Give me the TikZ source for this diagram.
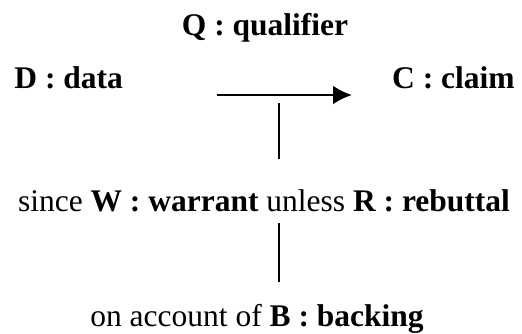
\documentclass[tikz,border=0pt]{standalone}
\usepackage{fontspec}
\setmainfont{Liberation Serif}
\usetikzlibrary{arrows.meta}
\begin{document}
\begin{tikzpicture}[x=1pt, y=-1pt, >={Latex[length=19pt,width=19pt]}, line width=2.8pt,
    lbl/.style={anchor=base, inner sep=0pt, font=\fontsize{31.5}{36}\selectfont}]
    \useasboundingbox (0,0) rectangle (522,334);
    \node[lbl] (Q) at (265,36) {\textbf{Q : qualifier}};
    \node[lbl, anchor=base west] (D) at (13,89) {\textbf{D : data}};
    \node[lbl, anchor=base east] (C) at (516,89) {\textbf{C : claim}};
    \node[lbl] (W) at (264,211) {since \textbf{W : warrant} unless \textbf{R : rebuttal}};
    \node[lbl] (B) at (257,326) {on account of \textbf{B : backing}};
    \coordinate (a1) at (217,95); \coordinate (a2) at (352,95);
    \coordinate (w1) at (279,103); \coordinate (w2) at (279,159);
    \coordinate (b1) at (279,223); \coordinate (b2) at (279,282);
    \draw[->] (a1)--(a2);
    \draw (w1)--(w2);
    \draw (b1)--(b2);
\end{tikzpicture}
\end{document}
